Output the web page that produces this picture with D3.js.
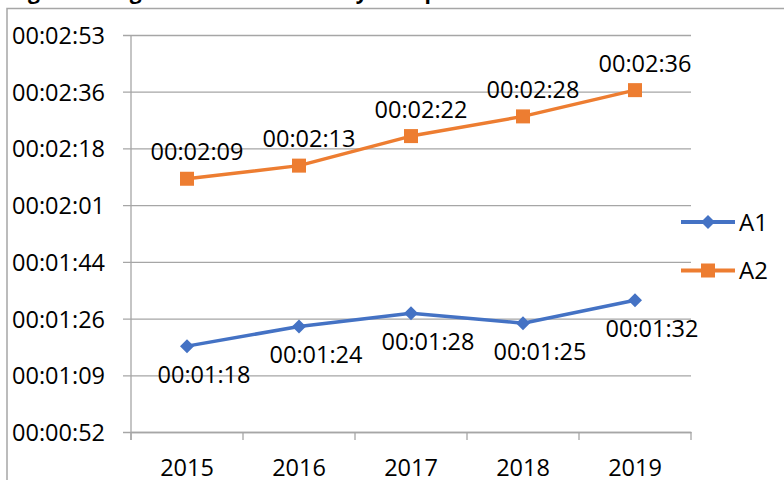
<!DOCTYPE html>
<html>
<head>
<meta charset="utf-8">
<script src="https://cdn.jsdelivr.net/npm/d3@7"></script>
<style>
  body { margin: 0; background: #fff; }
  text { font-family: "Open Sans", sans-serif; fill: #000; }
</style>
</head>
<body>
<div id="chart"></div>
<script>
// Data (times in seconds)
var years = ["2015", "2016", "2017", "2018", "2019"];
var a1Values = [78, 84, 88, 85, 92];
var a2Values = [129, 133, 142, 148, 156];
var seriesNames = ["A1", "A2"];
// Excel-style time axis: 0.0006 to 0.002 days, step 0.0002 days
var yTickValues = [51.84, 69.12, 86.4, 103.68, 120.96, 138.24, 155.52, 172.8];

var svgWidth = 784;
var svgHeight = 480;

var plot = { left: 131, right: 691, top: 35, bottom: 432 };

var blue = "#4472C4";
var orange = "#ED7D31";
var gridColor = "#a6a6a6";
var fontSize = "23.5px";

function fmtTime(sec) {
  var s = Math.round(sec);
  var h = Math.floor(s / 3600);
  var m = Math.floor((s % 3600) / 60);
  var ss = s % 60;
  var p = d3.format("02d");
  return p(h) + ":" + p(m) + ":" + p(ss);
}

var svg = d3.select("#chart")
  .append("svg")
  .attr("width", svgWidth)
  .attr("height", svgHeight);

// Title (mostly cut off at the top of the picture, as in the original)
svg.append("text")
  .attr("x", 10)
  .attr("y", -1)
  .attr("font-size", "21px")
  .attr("font-weight", "700")
  .text("Fig. 1 Average Session Duration by Group");

// Chart frame
svg.append("rect")
  .attr("x", 7)
  .attr("y", 8.5)
  .attr("width", 900)
  .attr("height", 600)
  .attr("fill", "none")
  .attr("stroke", gridColor)
  .attr("stroke-width", 1.5);

// Scales
var xScale = d3.scaleBand()
  .domain(years)
  .range([plot.left, plot.right])
  .padding(0);

var yScale = d3.scaleLinear()
  .domain([yTickValues[0], yTickValues[yTickValues.length - 1]])
  .range([plot.bottom, plot.top]);

// Y axis with gridlines
var leftAxis = d3.axisLeft(yScale)
  .tickValues(yTickValues)
  .tickFormat(fmtTime)
  .tickSize(-(plot.right - plot.left + 8))
  .tickPadding(18);

var yAxisG = svg.append("g")
  .attr("transform", `translate(${plot.left - 8},0)`)
  .call(leftAxis);
yAxisG.select(".domain").remove();
yAxisG.selectAll("line")
  .attr("stroke", gridColor)
  .attr("stroke-width", 1.3);
yAxisG.selectAll("text")
  .attr("font-size", fontSize)
  .attr("font-family", "Open Sans")
  .attr("dy", "0.36em");

// Vertical axis line
svg.append("line")
  .attr("x1", plot.left).attr("x2", plot.left)
  .attr("y1", plot.top).attr("y2", plot.bottom + 8)
  .attr("stroke", gridColor)
  .attr("stroke-width", 1.3);

// X axis labels
var bottomAxis = d3.axisBottom(xScale)
  .tickSize(0)
  .tickPadding(27);

var xAxisG = svg.append("g")
  .attr("transform", `translate(0,${plot.bottom})`)
  .call(bottomAxis);
xAxisG.select(".domain")
  .attr("stroke", gridColor)
  .attr("stroke-width", 1.3);
xAxisG.selectAll("text")
  .attr("font-size", fontSize)
  .attr("font-family", "Open Sans");

// Category boundary ticks
var bounds = years.map(d => xScale(d)).concat([xScale(years[years.length - 1]) + xScale.bandwidth()]);
svg.append("g").selectAll("line")
  .data(bounds)
  .enter()
  .append("line")
  .attr("x1", d => d).attr("x2", d => d)
  .attr("y1", plot.bottom).attr("y2", plot.bottom + 8)
  .attr("stroke", gridColor)
  .attr("stroke-width", 1.3);

var cx = d => xScale(d) + xScale.bandwidth() / 2;

var line = d3.line()
  .x((d, i) => cx(years[i]))
  .y(d => yScale(d));

var diamond = "M0,-7L7,0L0,7L-7,0Z";

// Series A2
svg.append("path")
  .datum(a2Values)
  .attr("d", line)
  .attr("fill", "none")
  .attr("stroke", orange)
  .attr("stroke-width", 3.5)
  .attr("stroke-linejoin", "round");

svg.append("g").selectAll("rect")
  .data(a2Values)
  .enter()
  .append("rect")
  .attr("x", (d, i) => cx(years[i]) - 7)
  .attr("y", d => yScale(d) - 7)
  .attr("width", 14)
  .attr("height", 14)
  .attr("fill", orange);

svg.append("g").selectAll("text")
  .data(a2Values)
  .enter()
  .append("text")
  .attr("x", (d, i) => cx(years[i]) + 10)
  .attr("y", d => yScale(d) - 27)
  .attr("dy", "0.36em")
  .attr("text-anchor", "middle")
  .attr("font-size", fontSize)
  .text(d => fmtTime(d));

// Series A1
svg.append("path")
  .datum(a1Values)
  .attr("d", line)
  .attr("fill", "none")
  .attr("stroke", blue)
  .attr("stroke-width", 3.5)
  .attr("stroke-linejoin", "round");

svg.append("g").selectAll("path")
  .data(a1Values)
  .enter()
  .append("path")
  .attr("d", diamond)
  .attr("transform", (d, i) => `translate(${cx(years[i])},${yScale(d)})`)
  .attr("fill", blue);

svg.append("g").selectAll("text")
  .data(a1Values)
  .enter()
  .append("text")
  .attr("x", (d, i) => cx(years[i]) + 17)
  .attr("y", d => yScale(d) + 28)
  .attr("dy", "0.36em")
  .attr("text-anchor", "middle")
  .attr("font-size", fontSize)
  .text(d => fmtTime(d));

// Legend
var legend = svg.append("g").attr("transform", "translate(681,222)");
var colors = [blue, orange];
seriesNames.forEach(function (name, i) {
  var g = legend.append("g").attr("transform", `translate(0,${i * 48.5})`);
  g.append("line")
    .attr("x1", 0).attr("x2", 54)
    .attr("y1", 0).attr("y2", 0)
    .attr("stroke", colors[i])
    .attr("stroke-width", 4);
  if (i === 0) {
    g.append("path")
      .attr("d", diamond)
      .attr("transform", "translate(27,0)")
      .attr("fill", colors[i]);
  } else {
    g.append("rect")
      .attr("x", 20).attr("y", -7)
      .attr("width", 14).attr("height", 14)
      .attr("fill", colors[i]);
  }
  g.append("text")
    .attr("x", 58)
    .attr("y", 0)
    .attr("dy", "0.36em")
    .attr("font-size", "24px")
    .text(name);
});
</script>
</body>
</html>
